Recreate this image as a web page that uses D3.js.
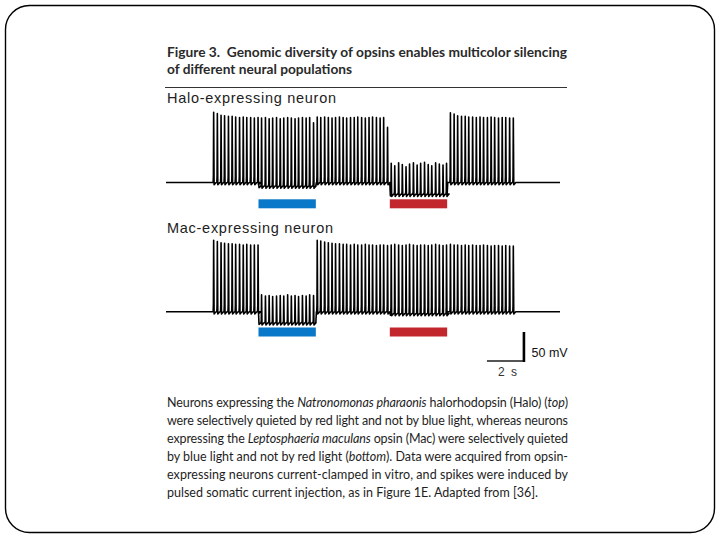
<!DOCTYPE html>
<html><head><meta charset="utf-8">
<script src="https://cdn.jsdelivr.net/npm/d3@7"></script>
<style>html,body{margin:0;padding:0;background:#fff}</style>
</head><body>
<svg id="chart" width="720" height="540"></svg>
<script>
// ---------------- data ----------------
// current pulse times (s), shared protocol for both recordings
const pulseTimes = [2.55, 2.75, 2.95, 3.14, 3.35, 3.55, 3.74, 3.95, 4.15, 4.34, 4.55, 4.75,
  4.95, 5.14, 5.35, 5.55, 5.74, 5.95, 6.15, 6.34, 6.55, 6.75, 6.95, 7.14, 7.35, 7.55, 7.74, 7.95,
  8.15, 8.34, 8.55, 8.75, 8.95, 9.14, 9.35, 9.55, 9.74, 9.95, 10.15, 10.34, 10.55, 10.75, 10.95, 11.14, 11.35, 11.55, 11.74, 11.95,
  12.15, 12.34, 12.55, 12.75, 12.95, 13.14, 13.35, 13.55, 13.74, 13.95, 14.15, 14.34, 14.55, 14.75, 14.95, 15.14,
  15.35, 15.55, 15.74, 15.95, 16.15, 16.34, 16.55, 16.75, 16.95, 17.14, 17.35, 17.55, 17.74, 17.95, 18.15, 18.34, 18.55, 18.75];
// peak membrane potential reached after each pulse (mV)
const haloPeaks = [56, 54, 51, 50, 49, 49, 48, 47, 48, 47, 47, 46,
  47, 46, 47, 45, 46, 47, 45, 46, 47, 46, 45, 46, 47, 46, 47, 38,
  48, 47, 48, 47, 46, 47, 48, 47, 46, 47, 47, 48, 47, 46, 47, 48, 47, 46, 47, 30,
  -32, -36, -31, -34, -38, -33, -31, -35, -32, -30, -34, -36, -31, -33, -35, -32,
  55, 53, 50, 49, 49, 48, 48, 47, 48, 47, 47, 48, 47, 46, 47, 47, 46, 46];
const macPeaks = [58, 56, 54, 53, 52, 52, 51, 51, 50, 51, 50, 50,
  50, -36, -38, -37, -39, -38, -37, -38, -36, -38, -37, -39, -37, -38, -36, -37,
  58, 57, 55, 54, 53, 52, 52, 51, 51, 50, 51, 50, 50, 51, 50, 50, 49, 50, 50, 49,
  50, 51, 50, 49, 50, 51, 50, 49, 50, 50, 49, 50, 51, 50, 49, 50,
  51, 50, 50, 49, 50, 49, 50, 49, 49, 50, 49, 48, 49, 49, 48, 49, 48, 48];
// resting potential (mV) in: dark, blue light, red light
const haloRest = [-65, -71, -85];
const macRest = [-65, -84, -68];
// light epochs (s)
const lightNames = ["blue", "red"];
const lightOn = [5.0, 12.1];
const lightOff = [8.1, 15.2];
const lightColors = ["#0a78c8", "#c1272d"];
const recordingEnd = 21.3;
const panelLabels = ["Halo-expressing neuron", "Mac-expressing neuron"];
const scaleBarTime = 2;      // s
const scaleBarVoltage = 50;  // mV
const scaleBarLabels = ["2 s", "50 mV"];
const titleLines = ["Figure 3.  Genomic diversity of opsins enables multicolor silencing",
  "of different neural populations"];
const captionLines = [
  [["Neurons expressing the ", 0], ["Natronomonas pharaonis", 1], [" halorhodopsin (Halo) (", 0], ["top", 1], [")", 0]],
  [["were selectively quieted by red light and not by blue light, whereas neurons", 0]],
  [["expressing the ", 0], ["Leptosphaeria maculans", 1], [" opsin (Mac) were selectively quieted", 0]],
  [["by blue light and not by red light (", 0], ["bottom", 1], ["). Data were acquired from opsin-", 0]],
  [["expressing neurons current-clamped in vitro, and spikes were induced by", 0]],
  [["pulsed somatic current injection, as in Figure 1E. Adapted from [36].", 0]]
];

// ---------------- drawing ----------------
const svg = d3.select("#chart");

// slide frame
svg.append("rect").attr("x", 5.5).attr("y", 5.5).attr("width", 709).attr("height", 527)
  .attr("rx", 24).attr("ry", 24).attr("fill", "#fff").attr("stroke", "#000").attr("stroke-width", 1.4);

// title
const tl = svg.append("g").attr("font-family", "Lato, 'Open Sans', sans-serif").attr("font-weight", 700)
  .attr("font-size", 14).attr("fill", "#2a2a2a");
tl.append("text").attr("x", 167).attr("y", 57).attr("textLength", 400).attr("lengthAdjust", "spacingAndGlyphs")
  .attr("xml:space", "preserve").style("white-space", "pre").text(titleLines[0]);
tl.append("text").attr("x", 167).attr("y", 74).attr("textLength", 185).attr("lengthAdjust", "spacingAndGlyphs")
  .text(titleLines[1]);
svg.append("line").attr("x1", 165).attr("x2", 567).attr("y1", 87.5).attr("y2", 87.5)
  .attr("stroke", "#333").attr("stroke-width", 1);

const mvPx = 29 / 50;
const x = d3.scaleLinear().domain([0, recordingEnd]).range([166, 560]);
const baseY = [182.5, 311.7];
const yScales = baseY.map(b => d3.scaleLinear().domain([-65, 50]).range([b, b - 115 * mvPx]));

function buildTrace(peaks, rest) {
  const restAt = t => {
    for (let i = 0; i < lightOn.length; i++) if (t >= lightOn[i] && t < lightOff[i]) return rest[i + 1];
    return rest[0];
  };
  const events = [];
  lightOn.forEach((on, i) => { events.push({ t: on, step: true }); events.push({ t: lightOff[i], step: true }); });
  pulseTimes.forEach((t, k) => events.push({ t, k }));
  events.sort((a, b) => a.t - b.t);
  const pts = [[0, rest[0]]];
  for (const e of events) {
    if (e.step) {
      pts.push([e.t, restAt(e.t - 1e-6)]);
      pts.push([e.t + 0.03, restAt(e.t + 1e-6) - (restAt(e.t + 1e-6) < restAt(e.t - 1e-6) ? 3 : 0)]);
    } else {
      const r = restAt(e.t), p = peaks[e.k];
      pts.push([e.t, r]);
      pts.push([e.t + 0.012, r + (p - r) * 0.1]);
      pts.push([e.t + 0.026, p]);
      pts.push([e.t + 0.05, r - 4]);
      pts.push([e.t + 0.1, r - 2]);
      pts.push([e.t + 0.16, r]);
    }
  }
  pts.push([recordingEnd, rest[0]]);
  return pts;
}

const panels = [
  { label: panelLabels[0], peaks: haloPeaks, rest: haloRest, y: yScales[0], labelY: 103 },
  { label: panelLabels[1], peaks: macPeaks, rest: macRest, y: yScales[1], labelY: 232.5 }
];

panels.forEach((p, i) => {
  const g = svg.append("g");
  g.append("text").attr("x", 167).attr("y", p.labelY)
    .attr("font-family", "'Liberation Sans', Arial, sans-serif").attr("font-size", 14.5)
    .attr("fill", "#222").attr("textLength", i === 0 ? 169 : 166).attr("lengthAdjust", "spacing")
    .text(p.label);
  const line = d3.line().x(d => x(d[0])).y(d => p.y(d[1]));
  g.append("path").attr("d", line(buildTrace(p.peaks, p.rest)))
    .attr("fill", "none").attr("stroke", "#000").attr("stroke-width", 1.6).attr("stroke-linejoin", "round");
  // light bars
  const barTop = p.y(-65) + (i === 0 ? 16.8 : 15.8);
  g.selectAll("rect.light").data(lightNames).join("rect").attr("class", "light")
    .attr("x", (d, j) => x(lightOn[j])).attr("width", (d, j) => x(lightOff[j]) - x(lightOn[j]))
    .attr("y", barTop).attr("height", 9).attr("fill", (d, j) => lightColors[j]);
});

// scale bar
const sbT0 = 17.35;
const sbY = yScales[1];
const sbV0 = -150;
svg.append("line").attr("x1", x(sbT0)).attr("x2", x(sbT0 + scaleBarTime)).attr("y1", sbY(sbV0)).attr("y2", sbY(sbV0))
  .attr("stroke", "#555").attr("stroke-width", 1.8);
svg.append("line").attr("x1", x(sbT0 + scaleBarTime)).attr("x2", x(sbT0 + scaleBarTime))
  .attr("y1", sbY(sbV0) + 1).attr("y2", sbY(sbV0 + scaleBarVoltage))
  .attr("stroke", "#000").attr("stroke-width", 2.6);
svg.append("text").attr("x", 498).attr("y", 376).attr("font-family", "'Liberation Sans', Arial, sans-serif")
  .attr("font-size", 12).attr("fill", "#333").attr("letter-spacing", 1.5).text(scaleBarLabels[0]);
svg.append("text").attr("x", 531.5).attr("y", 357).attr("font-family", "'Liberation Sans', Arial, sans-serif")
  .attr("font-size", 12.5).attr("fill", "#111").text(scaleBarLabels[1]);

// caption
const cap = svg.append("g").attr("font-family", "Lato, 'Open Sans', sans-serif").attr("font-size", 12.5).attr("fill", "#1e1e1e");
captionLines.forEach((segs, i) => {
  const t = cap.append("text").attr("x", 167).attr("y", 406.5 + i * 18).attr("xml:space", "preserve").style("white-space", "pre");
  segs.forEach(s => t.append("tspan").attr("font-style", s[1] ? "italic" : "normal").text(s[0]));
  if (i < captionLines.length - 1) t.attr("textLength", 401).attr("lengthAdjust", "spacing");
  else t.attr("textLength", 371).attr("lengthAdjust", "spacing");
});
</script>
</body></html>
